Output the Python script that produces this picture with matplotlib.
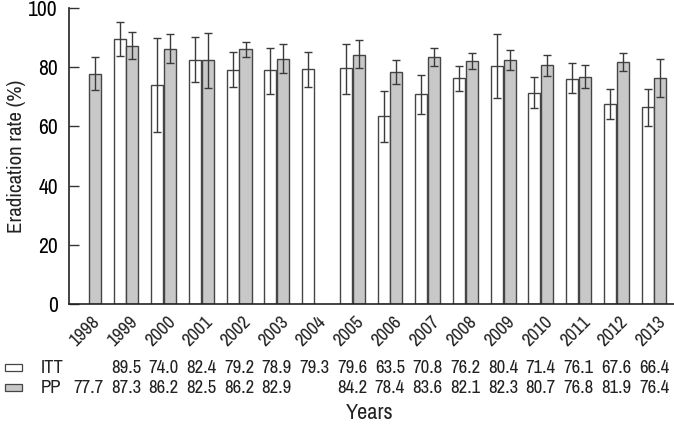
import numpy as np
import matplotlib.pyplot as plt
from matplotlib import font_manager
import matplotlib.transforms as mtransforms
from matplotlib.patches import Rectangle

# data
years = ['1998', '1999', '2000', '2001', '2002', '2003', '2004', '2005',
         '2006', '2007', '2008', '2009', '2010', '2011', '2012', '2013']
itt = [np.nan, 89.5, 74.0, 82.4, 79.2, 78.9, 79.3, 79.6,
       63.5, 70.8, 76.2, 80.4, 71.4, 76.1, 67.6, 66.4]
pp = [77.7, 87.3, 86.2, 82.5, 86.2, 82.9, np.nan, 84.2,
      78.4, 83.6, 82.1, 82.3, 80.7, 76.8, 81.9, 76.4]
# 95% CI bounds (estimated)
itt_low = [np.nan, 83.9, 58.0, 74.9, 73.2, 71.1, 73.2, 71.1,
           54.6, 64.1, 71.8, 69.5, 66.2, 71.3, 62.4, 60.0]
itt_high = [np.nan, 95.2, 89.7, 90.1, 85.0, 86.6, 85.2, 87.9,
            72.1, 77.2, 80.5, 91.3, 76.8, 81.3, 72.7, 72.5]
pp_low = [72.3, 82.8, 81.4, 73.1, 83.3, 78.0, np.nan, 79.6,
          74.3, 80.3, 79.3, 79.1, 77.1, 72.9, 78.7, 70.0]
pp_high = [83.4, 92.0, 91.1, 91.7, 88.6, 87.9, np.nan, 89.1,
           82.5, 86.6, 84.8, 85.8, 84.2, 80.7, 84.9, 82.9]

# look for a condensed sans font, like the original
narrow = None
for f in font_manager.fontManager.ttflist:
    n = f.name.lower()
    if ('narrow' in n or 'condensed' in n) and 'mono' not in n:
        narrow = f.name
        break
    if str(f.stretch) in ('condensed', 'semi-condensed', '600', '700') and 'mono' not in n:
        narrow = f.name
fam = [narrow, 'DejaVu Sans'] if narrow else ['Liberation Sans', 'DejaVu Sans']
plt.rcParams['font.family'] = fam
fs = 13.5 if narrow else 11.5

itt = np.array(itt); pp = np.array(pp)
itt_err = [itt - np.array(itt_low), np.array(itt_high) - itt]
pp_err = [pp - np.array(pp_low), np.array(pp_high) - pp]

fig = plt.figure(figsize=(6.74, 4.24), dpi=100)
ax = fig.add_axes([69 / 674, 120 / 424, 605 / 674, 296 / 424])

x = np.arange(len(years))
w = 0.32
edge = '#454545'
ax.bar(x - 0.17, itt, w, color='white', edgecolor=edge, linewidth=1.0)
ax.bar(x + 0.17, pp, w, color='#c8c8c8', edgecolor=edge, linewidth=1.0)
ax.errorbar(x - 0.17, itt, yerr=itt_err, fmt='none', ecolor='#3a3a3a',
            elinewidth=1.0, capsize=3, capthick=1.0)
ax.errorbar(x + 0.17, pp, yerr=pp_err, fmt='none', ecolor='#3a3a3a',
            elinewidth=1.0, capsize=3, capthick=1.0)

ax.set_xlim(-0.51, 15.53)
ax.set_ylim(0, 100)
ax.set_yticks([0, 20, 40, 60, 80, 100])
ax.tick_params(axis='y', direction='in', length=7, width=1, pad=8, labelsize=fs + 2, color='#333333')
ax.spines['top'].set_visible(False)
ax.spines['right'].set_visible(False)
for s in ['left', 'bottom']:
    ax.spines[s].set_linewidth(1.2)
    ax.spines[s].set_color('#222222')
fig.text(17 / 674, 1 - 156 / 424, 'Eradication rate (%)', rotation=90, ha='center', va='center',
         fontsize=fs + 1.5, color='#222222')

ax.set_xticks(x)
ax.set_xticklabels([])
ax.tick_params(axis='x', length=0)

# rotated year labels
off = mtransforms.ScaledTranslation(9 / 100, 0, fig.dpi_scale_trans)
trans = mtransforms.blended_transform_factory(ax.transData, fig.transFigure) + off
for xi, yr in zip(x, years):
    ax.text(xi, 1 - 319 / 424, yr, transform=trans, rotation=45, rotation_mode='anchor',
            ha='right', va='center', fontsize=fs, color='#222222')

# table rows under the chart
trans2 = mtransforms.blended_transform_factory(ax.transData, fig.transFigure)
rows = [('ITT', itt, 'white', 368), ('PP', pp, '#c8c8c8', 388)]
for label, vals, col, ypix in rows:
    yf = 1 - ypix / 424
    fig.patches.append(Rectangle((5 / 674, yf - 3 / 424), 17 / 674, 7 / 424,
                                 transform=fig.transFigure, facecolor=col,
                                 edgecolor=edge, linewidth=0.9))
    fig.text(41 / 674, yf, label, ha='left', va='center', fontsize=fs, color='#222222')
    for xi, v in zip(x, vals):
        if not np.isnan(v):
            ax.text(xi, yf, f'{v:.1f}', transform=trans2, ha='center', va='center',
                    fontsize=fs, color='#222222', clip_on=False)

fig.text(370 / 674, 1 - 413 / 424, 'Years', ha='center', va='center', fontsize=fs + 2.5, color='#222222')

fig.savefig('out.png', dpi=100)
